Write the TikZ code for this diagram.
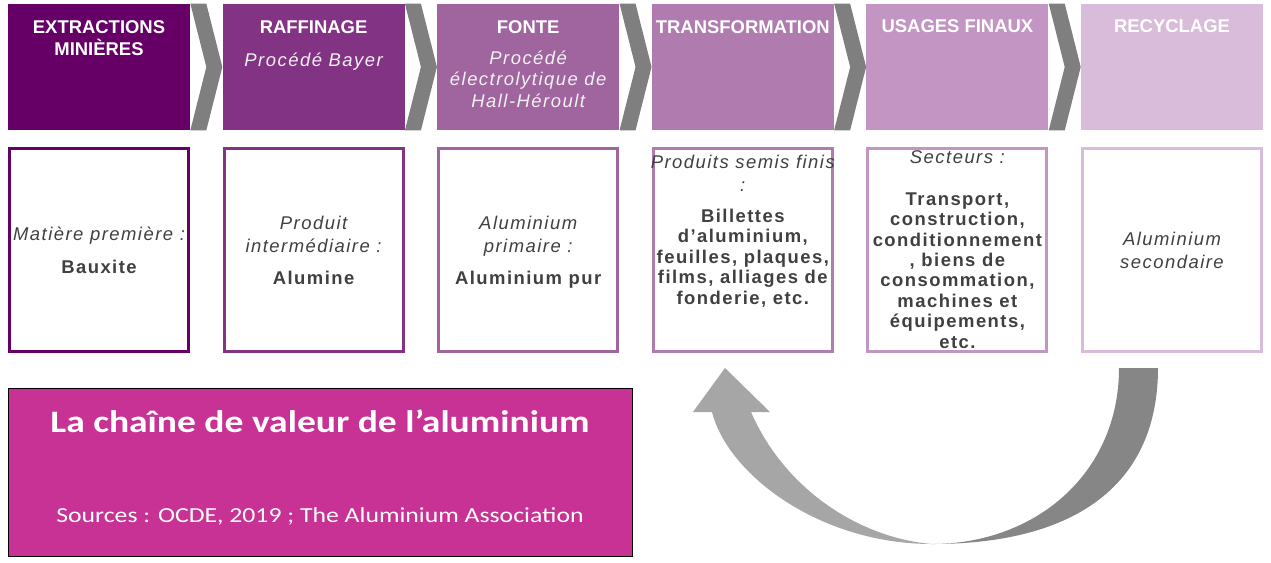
\documentclass[tikz,border=0pt]{standalone}
\usepackage{fontspec}
\setmainfont{Liberation Sans}
\newfontfamily\boxfont[LetterSpace=8]{Liberation Sans}
\newfontfamily\titlefont[FakeStretch=1.2]{Carlito}
\usepackage{xcolor}
\usepackage{tikz}
\usetikzlibrary{calc}
\definecolor{alublack}{RGB}{102,0,102}
\definecolor{alured}{RGB}{131,51,131}
\definecolor{alufonte}{RGB}{160,100,159}
\definecolor{alutrans}{RGB}{176,124,176}
\definecolor{aluusage}{RGB}{194,149,194}
\definecolor{alurecy}{RGB}{217,188,217}
\definecolor{alumagenta}{RGB}{200,50,148}
\definecolor{chevgray}{RGB}{127,127,127}
\definecolor{arrowdark}{RGB}{134,134,134}
\definecolor{arrowlight}{RGB}{166,166,166}
\definecolor{boxtext}{RGB}{64,64,64}

\begin{document}
\begin{tikzpicture}[
    x=0.02cm, y=-0.02cm,
    headbox/.style={rectangle, draw=none, minimum width=3.64cm, minimum height=2.52cm, inner sep=0},
    prodbox/.style={rectangle, draw, fill=white, line width=0.06cm, minimum width=3.58cm, minimum height=4.06cm, inner sep=0},
    headtitle/.style={anchor=base, align=center, inner sep=0, text=white, font=\bfseries\fontsize{10.5}{12.5}\selectfont},
    headsub/.style={anchor=base, align=center, inner sep=0, text=white!95!black, font=\boxfont\itshape\fontsize{10.5}{12}\selectfont},
    prodlabel/.style={anchor=base, align=center, inner sep=0, text=boxtext, font=\boxfont\itshape\fontsize{10.5}{13}\selectfont},
    prodvalue/.style={anchor=base, align=center, inner sep=0, text=boxtext, font=\boxfont\bfseries\fontsize{10.5}{11.6}\selectfont},
    chev/.style={fill=chevgray}
]
    \useasboundingbox (0,0) rectangle (1271,562);

    % Steps of the chain
    \node[headbox, fill=alublack] (h1) at (99,67) {};
    \node[headbox, fill=alured] (h2) at (313.6,67) {};
    \node[headbox, fill=alufonte] (h3) at (528.2,67) {};
    \node[headbox, fill=alutrans] (h4) at (742.8,67) {};
    \node[headbox, fill=aluusage] (h5) at (957.4,67) {};
    \node[headbox, fill=alurecy] (h6) at (1172,67) {};

    % (multi-line texts sit on the baseline of their last line)
    \node[headtitle] (t1) at (99,55) {EXTRACTIONS\\MINIÈRES};
    \node[headtitle] (t2) at (313.6,33) {RAFFINAGE};
    \node[headsub] (s2) at (313.6,66.7) {Procédé Bayer};
    \node[headtitle] (t3) at (528.2,33) {FONTE};
    \node[headsub] (s3) at (528.2,107) {Procédé\\électrolytique de\\Hall-Héroult};
    \node[headtitle] (t4) at (742.8,33) {TRANSFORMATION};
    \node[headtitle] (t5) at (957.4,32) {USAGES FINAUX};
    \node[headtitle] (t6) at (1172,32) {RECYCLAGE};

    % Chevrons
    \fill[chev] (h1.north east) -- ++(16,0) -- ($(h1.east)+(32,0)$) -- ($(h1.south east)+(16,0)$) -- (h1.south east) -- ($(h1.east)+(16,0)$) -- cycle;
    \fill[chev] (h2.north east) -- ++(16,0) -- ($(h2.east)+(32,0)$) -- ($(h2.south east)+(16,0)$) -- (h2.south east) -- ($(h2.east)+(16,0)$) -- cycle;
    \fill[chev] (h3.north east) -- ++(16,0) -- ($(h3.east)+(32,0)$) -- ($(h3.south east)+(16,0)$) -- (h3.south east) -- ($(h3.east)+(16,0)$) -- cycle;
    \fill[chev] (h4.north east) -- ++(16,0) -- ($(h4.east)+(32,0)$) -- ($(h4.south east)+(16,0)$) -- (h4.south east) -- ($(h4.east)+(16,0)$) -- cycle;
    \fill[chev] (h5.north east) -- ++(16,0) -- ($(h5.east)+(32,0)$) -- ($(h5.south east)+(16,0)$) -- (h5.south east) -- ($(h5.east)+(16,0)$) -- cycle;

    % Products
    \node[prodbox, draw=alublack] (p1) at (99,250) {};
    \node[prodbox, draw=alured] (p2) at (313.6,250) {};
    \node[prodbox, draw=alufonte] (p3) at (528.2,250) {};
    \node[prodbox, draw=alutrans] (p4) at (742.8,250) {};
    \node[prodbox, draw=aluusage] (p5) at (957.4,250) {};
    \node[prodbox, draw=alurecy] (p6) at (1172,250) {};

    \node[prodlabel] (l1) at (99,240.7) {Matière première :};
    \node[prodvalue] (v1) at (99,273) {Bauxite};
    \node[prodlabel] (l2) at (313.6,252) {Produit\\intermédiaire :};
    \node[prodvalue] (v2) at (313.6,284) {Alumine};
    \node[prodlabel] (l3) at (528.2,252) {Aluminium\\primaire :};
    \node[prodvalue] (v3) at (528.2,284) {Aluminium pur};
    \node[prodlabel] (l4) at (742.8,191) {Produits semis finis\\:};
    \node[prodvalue] (v4) at (742.8,304) {Billettes\\d’aluminium,\\feuilles, plaques,\\films, alliages de\\fonderie, etc.};
    \node[prodlabel] (l5) at (957.4,163) {Secteurs :};
    \node[prodvalue] (v5) at (957.4,348) {Transport,\\construction,\\conditionnement\\, biens de\\consommation,\\machines et\\équipements,\\etc.};
    \node[prodlabel] (l6) at (1172,268) {Aluminium\\secondaire};

    % Recycling arrow
    \fill[arrowdark] (1158,368) .. controls (1158,482) and (1079,544) .. (932,544)
        .. controls (1035,544) and (1119,474) .. (1119,368) -- cycle;
    \fill[arrowlight] (712,412) -- (693,412) -- (725,368) -- (770,412) -- (751,412)
        .. controls (785,490) and (860,538) .. (932,544)
        .. controls (820,544) and (728,475) .. (712,412) -- cycle;

    % Title
    \node[rectangle, draw=black, fill=alumagenta, minimum width=12.48cm, minimum height=3.36cm] (title) at (320,472) {};
    \node[anchor=base, inner sep=0, text=white, font=\titlefont\bfseries\fontsize{17.8}{22}\selectfont] (tname) at (320,432) {La chaîne de valeur de l’aluminium};
    \node[anchor=base, inner sep=0, text=white, font=\titlefont\fontsize{12.2}{14}\selectfont] (tsrc) at (320,522) {Sources : OCDE, 2019 ; The Aluminium Association};
\end{tikzpicture}
\end{document}
